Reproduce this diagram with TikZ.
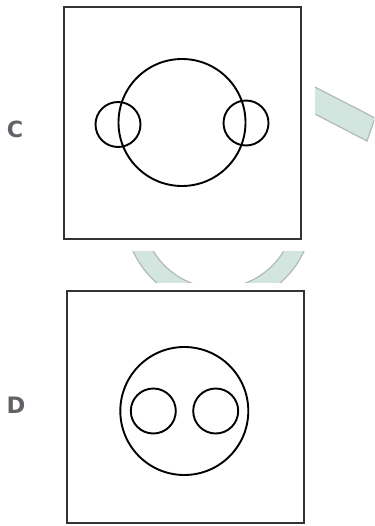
\documentclass[tikz,border=0pt]{standalone}
\usepackage{graphicx}
\usepackage{fontspec}
\setmainfont{DejaVu Sans}
\definecolor{lbl}{HTML}{5F6368}
\definecolor{wmfill}{HTML}{D3E5DF}
\definecolor{wmedge}{HTML}{B2BAB7}
\definecolor{boxc}{HTML}{333333}
\newcommand{\panelletter}[1]{\resizebox{!}{16.5bp}{\bfseries #1}}
\begin{document}
\begin{tikzpicture}[x=1bp,y=-1bp,
  frame/.style={draw=boxc,line width=2.5bp,fill=none},
  ring/.style={draw=black,line width=1.9bp},
  panellabel/.style={text=lbl,inner sep=0pt},
  wm/.style={fill=wmfill,draw=wmedge,line width=1.2bp}]
\useasboundingbox (0,0) rectangle (374,526);
\fill[white] (0,0) rectangle (374,526);
% watermark pieces
\begin{scope}
  \clip (0,251) rectangle (374,282);
  \path[wm,even odd rule] (218.5,212) circle[radius=94] (218.5,212) circle[radius=76];
\end{scope}
\begin{scope}
  \clip (315,0) rectangle (374,526);
  \path[wm] (312,85.5) -- (375,118) -- (367,141) -- (312,112.5) -- cycle;
\end{scope}
% panel C
\draw[frame] (64,7) rectangle (301,239);
\node[panellabel] (lc) at (15,129) {\panelletter{C}};
\draw[ring] (182,122.5) circle[radius=63.5];
\draw[ring] (118,124.5) circle[radius=22.5];
\draw[ring] (246,123) circle[radius=22.5];
% panel D
\draw[frame] (67,291) rectangle (304,523);
\node[panellabel] (ld) at (16,405.5) {\panelletter{D}};
\draw[ring] (184.3,411) circle[radius=64];
\draw[ring] (153.3,411) circle[radius=22.5];
\draw[ring] (215.7,411) circle[radius=22.5];
\end{tikzpicture}
\end{document}
